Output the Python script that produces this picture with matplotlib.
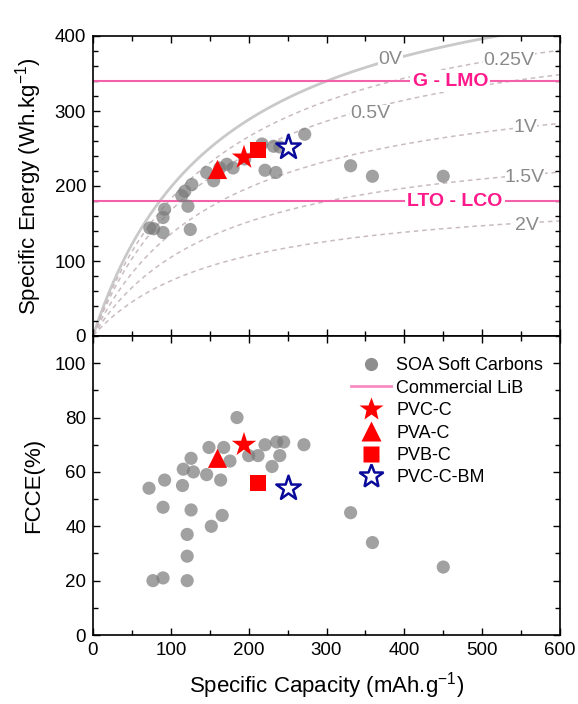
import numpy as np
import matplotlib
matplotlib.use("Agg")
import matplotlib.pyplot as plt
from matplotlib.lines import Line2D
from matplotlib.ticker import MultipleLocator

plt.rcParams['font.family'] = ['Liberation Sans', 'DejaVu Sans']

# ---------------- data ----------------
# State-of-the-art soft carbons: energy panel
soa_cap_e = [272, 217, 232, 240, 221, 235, 331, 359, 450, 180, 172, 163, 146,
             155, 127, 118, 114, 122, 92, 90, 73, 78, 90, 125, 195]
soa_energy = [269, 256, 253, 252, 221, 218, 227, 213, 213, 224, 229, 224, 218,
              207, 202, 193, 187, 173, 169, 158, 144, 143, 138, 142, 236]

# State-of-the-art soft carbons: FCCE panel
soa_cap_f = [185, 149, 168, 126, 176, 116, 129, 146, 164, 92, 72, 115, 200,
             212, 221, 236, 245, 271, 240, 230, 90, 126, 166, 152, 121, 121,
             77, 90, 121, 331, 359, 450]
soa_fcce = [80, 69, 69, 65, 64, 61, 60, 59, 57, 57, 54, 55, 66,
            66, 70, 71, 71, 70, 66, 62, 47, 46, 44, 40, 37, 29,
            20, 21, 20, 45, 34, 25]

# This work
samples = ['PVC-C', 'PVA-C', 'PVB-C', 'PVC-C-BM']
sample_cap = [194, 160, 212, 250]
sample_energy = [238, 222, 248, 252]
sample_fcce = [70, 65, 56, 54]

# Commercial LiB references
lib_names = ['G - LMO', 'LTO - LCO']
lib_energy = [340, 180]

# Iso-voltage model curves (anode average voltage)
anode_voltages = [0, 0.25, 0.5, 1, 1.5, 2]
anode_labels = ['0V', '0.25V', '0.5V', '1V', '1.5V', '2V']
cathode_voltage = 3.18   # V
cathode_capacity = 166   # mAh/g
label_pos = [(382, 369), (534, 367), (356, 296), (555, 278), (555, 211), (557, 147)]
lib_label_x = [459, 465]

# ---------------- figure ----------------
fig = plt.figure(figsize=(5.78, 7.04), dpi=100)
L, W = 93 / 578, (560 - 93) / 578
ax1 = fig.add_axes([L, (704 - 336) / 704, W, 300 / 704])
ax2 = fig.add_axes([L, (704 - 635) / 704, W, 299 / 704])

pink_line = '#f560aa'
pink_text = '#ff1a8c'
gray_pt = '#7a7a7a'

# curves
xc = np.linspace(0.5, 600, 600)
for v, lab, pos in zip(anode_voltages, anode_labels, label_pos):
    y = (cathode_voltage - v) * cathode_capacity * xc / (xc + cathode_capacity)
    if v == 0:
        ax1.plot(xc, y, color='#c9c9c9', lw=2.0, zorder=1, solid_capstyle='butt')
    else:
        ax1.plot(xc, y, color='#c8bcc0', lw=1.1, ls=(0, (3.0, 2.5)), zorder=1)
    ax1.text(pos[0], pos[1], lab, color='#8a8a8a', fontsize=14, ha='center',
             va='center', zorder=2,
             bbox=dict(facecolor='white', edgecolor='none', pad=0.3))

for e, name, lx in zip(lib_energy, lib_names, lib_label_x):
    ax1.axhline(e, color=pink_line, lw=1.5, zorder=2)
    ax1.text(lx, e, name, color=pink_text, fontsize=14, fontweight='bold',
             ha='center', va='center', zorder=3,
             bbox=dict(facecolor='white', edgecolor='none', pad=1.5))

ax1.scatter(soa_cap_e, soa_energy, s=90, color=gray_pt, alpha=0.7,
            edgecolors='none', zorder=4)
ax2.scatter(soa_cap_f, soa_fcce, s=90, color=gray_pt, alpha=0.7,
            edgecolors='none', zorder=4)

styles = [dict(marker='*', color='red', s=340),
          dict(marker='^', color='red', s=190),
          dict(marker='s', color='red', s=130),
          dict(marker='*', facecolors='white', edgecolors='#0a0a9a', s=340,
               linewidths=1.8)]
for ax, yv in ((ax1, sample_energy), (ax2, sample_fcce)):
    for i, st in enumerate(styles):
        st = dict(st)
        if 'color' in st:
            c = st.pop('color')
            st['c'] = c
            st['edgecolors'] = 'none'
        ax.scatter([sample_cap[i]], [yv[i]], zorder=5, **st)

# axes formatting
for ax in (ax1, ax2):
    ax.set_xlim(0, 600)
    ax.xaxis.set_major_locator(MultipleLocator(100))
    ax.xaxis.set_minor_locator(MultipleLocator(50))
    ax.tick_params(which='both', direction='in', top=True, right=True,
                   labelsize=13.5, width=1, pad=5)
    ax.tick_params(which='major', length=5)
    ax.tick_params(which='minor', length=3.5)
    for sp in ax.spines.values():
        sp.set_linewidth(1.2)

ax1.set_ylim(0, 400)
ax1.yaxis.set_major_locator(MultipleLocator(100))
ax1.yaxis.set_minor_locator(MultipleLocator(20))
ax1.tick_params(labelbottom=False)
ax1.set_ylabel('Specific Energy (Wh.kg$^{\\mathregular{-1}}$)', fontsize=16)

ax2.set_ylim(0, 110)
ax2.yaxis.set_major_locator(MultipleLocator(20))
ax2.yaxis.set_minor_locator(MultipleLocator(10))
ax2.set_ylabel('FCCE(%)', fontsize=16)
ax2.set_xlabel('Specific Capacity (mAh.g$^{\\mathregular{-1}}$)', fontsize=16,
               labelpad=8)
ax1.yaxis.set_label_coords(-0.105, 0.5)
ax2.yaxis.set_label_coords(-0.105, 0.5)

handles = [
    Line2D([], [], marker='o', ls='none', color=gray_pt, alpha=0.85, markersize=9.5,
           markeredgecolor='none'),
    Line2D([], [], color='#f78cc4', lw=2),
    Line2D([], [], marker='*', ls='none', color='red', markersize=18,
           markeredgecolor='none'),
    Line2D([], [], marker='^', ls='none', color='red', markersize=14,
           markeredgecolor='none'),
    Line2D([], [], marker='s', ls='none', color='red', markersize=11,
           markeredgecolor='none'),
    Line2D([], [], marker='*', ls='none', markerfacecolor='white',
           markeredgecolor='#0a0a9a', markersize=18, markeredgewidth=1.8),
]
labels = ['SOA Soft Carbons', 'Commercial LiB'] + samples
ax2.legend(handles, labels, loc='upper right', bbox_to_anchor=(0.979, 0.953),
           frameon=False, fontsize=13, handlelength=2.2, handletextpad=0.3,
           labelspacing=0.3, borderaxespad=0)

fig.savefig('out.png', dpi=100)
